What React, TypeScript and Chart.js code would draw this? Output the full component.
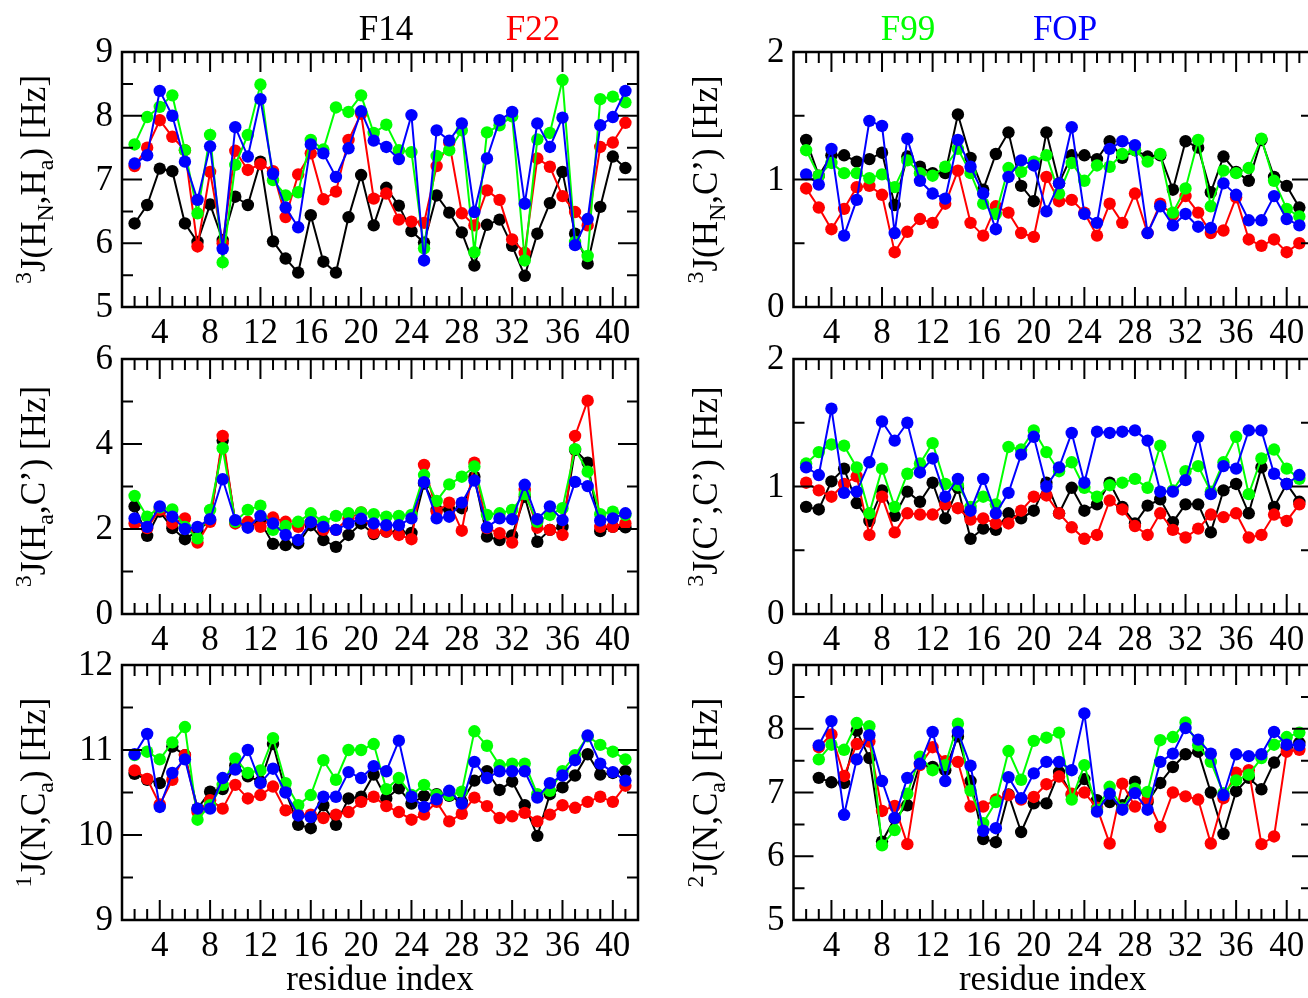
import React, { useEffect, useRef } from "react";
import { Chart, registerables } from "chart.js";

Chart.register(...registerables);

// ---- residue positions and axis ticks ----
const residues = [2, 3, 4, 5, 6, 7, 8, 9, 10, 11, 12, 13, 14, 15, 16, 17, 18, 19, 20, 21, 22, 23, 24, 25, 26, 27, 28, 29, 30, 31, 32, 33, 34, 35, 36, 37, 38, 39, 40, 41];
const residuesFrom3 = [3, 4, 5, 6, 7, 8, 9, 10, 11, 12, 13, 14, 15, 16, 17, 18, 19, 20, 21, 22, 23, 24, 25, 26, 27, 28, 29, 30, 31, 32, 33, 34, 35, 36, 37, 38, 39, 40, 41];
const residueTickLabels = [4, 8, 12, 16, 20, 24, 28, 32, 36, 40];

const seriesNames = ["F14", "F22", "F99", "FOP"];
const seriesColors = ["#000000", "#ff0000", "#00ff00", "#0000ff"];

// ---- 3J(HN,Ha) ----
const hnhaF14 = [6.31, 6.60, 7.17, 7.13, 6.31, 6.02, 6.61, 6.05, 6.73, 6.60, 7.28, 6.03, 5.76, 5.54, 6.44, 5.71, 5.54, 6.41, 7.07, 6.28, 6.87, 6.59, 6.19, 6.01, 6.75, 6.48, 6.17, 5.65, 6.29, 6.37, 5.96, 5.49, 6.15, 6.63, 7.12, 6.15, 5.68, 6.57, 7.36, 7.18];
const hnhaF22 = [7.21, 7.50, 7.93, 7.67, 7.46, 5.95, 7.12, 6.00, 7.45, 7.15, 7.24, 7.13, 6.41, 7.08, 7.41, 6.69, 6.81, 7.62, 8.03, 6.70, 6.78, 6.37, 6.34, 6.32, 7.21, 7.58, 6.47, 6.28, 6.83, 6.68, 6.06, 5.85, 7.33, 7.20, 6.74, 6.49, 6.28, 7.51, 7.58, 7.89];
const hnhaF99 = [7.55, 7.98, 8.14, 8.32, 7.46, 6.47, 7.70, 5.70, 7.23, 7.70, 8.49, 6.99, 6.75, 6.80, 7.62, 7.47, 8.13, 8.06, 8.32, 7.73, 7.86, 7.46, 7.43, 5.92, 7.37, 7.46, 7.77, 5.86, 7.74, 7.85, 7.99, 5.73, 7.63, 7.73, 8.56, 6.02, 5.80, 8.26, 8.30, 8.21];
const hnhaFOP = [7.25, 7.38, 8.39, 8.00, 7.28, 6.68, 7.52, 5.91, 7.82, 7.36, 8.26, 7.09, 6.56, 6.25, 7.55, 7.41, 7.04, 7.49, 8.07, 7.61, 7.51, 7.32, 8.01, 5.73, 7.77, 7.61, 7.88, 6.49, 7.33, 7.93, 8.06, 6.62, 7.88, 7.51, 7.97, 5.97, 6.38, 7.85, 7.98, 8.39];

// ---- 3J(HN,C') ----
const hncF14 = [1.31, 1.03, 1.19, 1.19, 1.14, 1.16, 1.21, 0.80, 1.18, 1.10, 1.05, 1.05, 1.51, 1.17, 0.92, 1.20, 1.37, 0.95, 0.83, 1.37, 0.97, 1.19, 1.19, 1.16, 1.30, 1.17, 1.23, 1.18, 1.19, 0.92, 1.30, 1.25, 0.90, 1.18, 1.06, 0.99, 1.31, 1.02, 0.95, 0.78];
const hncF22 = [0.93, 0.78, 0.61, 0.77, 0.94, 0.95, 0.88, 0.43, 0.59, 0.69, 0.66, 0.81, 1.07, 0.66, 0.56, 0.79, 0.74, 0.58, 0.55, 1.02, 0.83, 0.84, 0.74, 0.56, 0.81, 0.66, 0.89, 0.58, 0.81, 0.72, 0.87, 0.74, 0.58, 0.60, 0.86, 0.53, 0.48, 0.53, 0.43, 0.50];
const hncF99 = [1.23, 1.03, 1.13, 1.05, 1.05, 1.01, 1.04, 0.94, 1.15, 1.05, 1.03, 1.10, 1.24, 1.05, 0.81, 0.73, 1.09, 1.06, 1.14, 1.19, 0.89, 1.13, 0.99, 1.11, 1.10, 1.20, 1.23, 1.14, 1.20, 0.74, 0.93, 1.31, 0.79, 1.07, 1.05, 1.09, 1.32, 0.99, 0.77, 0.71];
const hncFOP = [1.04, 0.96, 1.24, 0.56, 0.84, 1.46, 1.42, 0.58, 1.32, 0.99, 0.89, 0.85, 1.31, 1.10, 0.89, 0.61, 1.02, 1.15, 1.11, 0.75, 0.97, 1.41, 0.73, 0.66, 1.24, 1.30, 1.27, 0.58, 0.79, 0.64, 0.73, 0.63, 0.62, 0.97, 0.88, 0.68, 0.68, 0.87, 0.69, 0.64];

// ---- 3J(Ha,C') ----
const hacF14 = [2.53, 1.84, 2.41, 2.02, 1.76, 1.95, 2.21, 4.08, 2.17, 2.05, 2.17, 1.65, 1.62, 1.66, 2.09, 1.74, 1.58, 1.86, 2.13, 1.88, 1.94, 1.91, 1.91, 3.07, 2.45, 2.46, 2.49, 3.23, 1.82, 1.74, 1.85, 2.76, 1.70, 1.98, 2.05, 3.86, 3.56, 1.95, 2.05, 2.04];
const hacF22 = [2.13, 2.02, 2.45, 2.13, 2.25, 1.68, 2.17, 4.19, 2.13, 2.17, 2.05, 2.27, 2.17, 2.05, 2.17, 1.98, 1.98, 2.25, 2.39, 1.91, 1.94, 1.86, 1.76, 3.51, 2.41, 2.62, 1.96, 3.56, 2.02, 1.90, 1.68, 2.92, 2.03, 1.98, 1.86, 4.19, 5.02, 2.05, 2.05, 2.13];
const hacF99 = [2.78, 2.29, 2.51, 2.46, 2.05, 1.78, 2.45, 3.90, 2.17, 2.45, 2.55, 1.98, 2.07, 2.17, 2.37, 2.17, 2.31, 2.37, 2.39, 2.35, 2.29, 2.31, 2.33, 3.27, 2.66, 3.05, 3.23, 3.47, 2.33, 2.37, 2.45, 2.82, 2.17, 2.33, 2.49, 3.88, 3.35, 2.35, 2.41, 2.33];
const hacFOP = [2.25, 2.05, 2.53, 2.29, 2.00, 2.05, 2.23, 3.17, 2.21, 2.03, 2.31, 2.13, 1.86, 1.74, 2.16, 2.05, 1.98, 2.13, 2.24, 2.13, 2.09, 2.09, 2.25, 3.10, 2.25, 2.29, 2.62, 3.14, 2.04, 2.25, 2.23, 3.04, 2.23, 2.53, 2.21, 3.11, 3.01, 2.20, 2.25, 2.37];

// ---- 3J(C',C') ----
const ccF14 = [0.84, 0.82, 1.04, 1.14, 0.87, 0.73, 0.97, 0.77, 0.96, 0.88, 1.03, 0.75, 0.99, 0.59, 0.67, 0.66, 0.79, 0.75, 0.81, 1.03, 0.79, 0.99, 0.81, 0.86, 1.03, 0.84, 0.71, 0.85, 0.90, 0.72, 0.86, 0.86, 0.64, 0.97, 1.02, 0.79, 1.15, 0.84, 1.02, 0.88];
const ccF22 = [1.03, 0.97, 0.92, 1.02, 1.08, 0.62, 0.92, 0.64, 0.79, 0.78, 0.78, 0.86, 0.83, 0.74, 0.75, 0.71, 0.71, 0.81, 0.92, 0.93, 0.79, 0.68, 0.59, 0.62, 0.89, 0.82, 0.69, 0.62, 0.79, 0.66, 0.60, 0.67, 0.78, 0.76, 0.79, 0.60, 0.62, 0.78, 0.73, 0.86];
const ccF99 = [1.18, 1.27, 1.33, 1.32, 1.15, 0.79, 1.14, 0.84, 1.10, 1.18, 1.34, 1.02, 1.01, 0.84, 0.92, 0.86, 1.31, 1.29, 1.44, 1.27, 1.12, 1.19, 0.99, 0.92, 1.01, 1.03, 1.06, 0.99, 1.32, 0.97, 1.12, 1.16, 0.96, 1.19, 1.39, 0.94, 1.22, 1.29, 1.14, 1.06];
const ccFOP = [1.15, 1.09, 1.61, 0.95, 0.96, 1.19, 1.51, 1.36, 1.50, 1.11, 1.22, 0.92, 1.06, 0.81, 1.06, 0.79, 0.95, 1.25, 1.39, 1.00, 1.15, 1.42, 1.03, 1.43, 1.42, 1.43, 1.44, 1.36, 0.96, 0.96, 1.05, 1.39, 0.94, 1.16, 1.14, 1.44, 1.44, 1.10, 1.02, 1.09];

// ---- 1J(N,Ca) ----
const nca1F14 = [10.72, 10.65, 10.61, 11.04, 10.94, 10.31, 10.51, 10.54, 10.82, 10.69, 10.63, 11.07, 10.51, 10.12, 10.08, 10.35, 10.12, 10.43, 10.45, 10.71, 10.43, 10.55, 10.37, 10.46, 10.48, 10.46, 10.39, 10.64, 10.75, 10.53, 10.63, 10.35, 9.99, 10.48, 10.56, 10.70, 10.95, 10.71, 10.73, 10.75];
const nca1F22 = [10.76, 10.66, 10.36, 10.65, 10.94, 10.27, 10.41, 10.31, 10.59, 10.43, 10.47, 10.57, 10.29, 10.24, 10.24, 10.20, 10.24, 10.27, 10.39, 10.45, 10.34, 10.27, 10.18, 10.24, 10.39, 10.16, 10.25, 10.44, 10.34, 10.20, 10.22, 10.26, 10.16, 10.24, 10.35, 10.32, 10.39, 10.45, 10.39, 10.58];
const nca1F99 = [10.94, 10.98, 10.89, 11.09, 11.27, 10.18, 10.35, 10.59, 10.90, 10.73, 10.76, 11.14, 10.61, 10.35, 10.47, 10.88, 10.65, 11.00, 11.00, 11.07, 10.54, 10.67, 10.47, 10.59, 10.47, 10.47, 10.51, 11.22, 11.05, 10.82, 10.84, 10.84, 10.48, 10.52, 10.75, 10.94, 11.16, 11.06, 10.98, 10.89];
const nca1FOP = [10.95, 11.19, 10.33, 10.73, 10.89, 10.31, 10.31, 10.67, 10.77, 11.00, 10.61, 10.78, 10.50, 10.23, 10.21, 10.45, 10.45, 10.74, 10.67, 10.81, 10.75, 11.11, 10.45, 10.33, 10.42, 10.52, 10.37, 10.86, 10.67, 10.75, 10.75, 10.75, 10.44, 10.61, 10.70, 10.88, 11.17, 10.84, 10.74, 10.64];

// ---- 2J(N,Ca) (residues 3-41) ----
const nca2F14 = [7.23, 7.16, 7.15, 7.97, 7.54, 6.23, 6.59, 6.80, 7.45, 7.40, 7.35, 7.88, 7.18, 6.27, 6.22, 6.97, 6.38, 6.83, 6.83, 7.32, 6.96, 7.21, 6.88, 6.85, 6.80, 7.17, 6.85, 7.15, 7.40, 7.60, 7.64, 7.00, 6.35, 7.02, 7.23, 7.05, 7.47, 7.71, 7.78];
const nca2F22 = [7.71, 7.91, 7.26, 7.76, 7.80, 6.71, 6.79, 6.19, 7.43, 7.71, 7.49, 7.48, 6.78, 6.78, 6.89, 6.96, 6.89, 6.93, 7.13, 7.25, 6.98, 7.00, 6.76, 6.20, 7.14, 6.78, 6.89, 6.46, 7.00, 6.94, 6.89, 6.20, 6.91, 7.31, 7.35, 6.19, 6.31, 7.64, 7.67];
const nca2F99 = [7.52, 7.75, 7.67, 8.09, 8.04, 6.17, 6.41, 6.98, 7.56, 7.35, 7.43, 8.08, 7.03, 6.52, 6.85, 7.65, 7.20, 7.81, 7.86, 7.94, 6.89, 7.43, 6.73, 7.09, 6.75, 7.06, 7.01, 7.82, 7.87, 8.10, 7.74, 7.48, 6.99, 7.19, 7.28, 7.54, 7.75, 7.87, 7.94];
const nca2FOP = [7.74, 8.12, 6.65, 7.52, 7.90, 7.18, 6.60, 7.23, 7.45, 7.95, 7.18, 7.95, 7.42, 6.40, 6.44, 7.24, 6.91, 7.30, 7.48, 7.48, 7.35, 8.24, 6.70, 6.98, 6.73, 6.99, 6.73, 7.48, 7.61, 8.01, 7.83, 7.61, 6.96, 7.60, 7.57, 7.60, 7.95, 7.75, 7.74];

// ---- y axis ticks per panel ----
const hnhaTicks = [5, 6, 7, 8, 9];
const hnhaMinor = [5.5, 6.5, 7.5, 8.5];
const smallJTicks = [0, 1, 2];
const smallJMinor = [0.5, 1.5];
const hacTicks = [0, 2, 4, 6];
const hacMinor = [1, 3, 5];
const nca1Ticks = [9, 10, 11, 12];
const nca1Minor = [9.5, 10.5, 11.5];
const nca2Ticks = [5, 6, 7, 8, 9];
const nca2Minor = [5.5, 6.5, 7.5, 8.5];

const FONT = "'Liberation Serif', 'Times New Roman', serif";
const FS = 35;
const FS_SMALL = 24;
const INK = "#000000";

type Seg = { t: string; s?: "sup" | "sub" };
type Header = { text: string; color: string; x: number; y: number };

interface PanelSpec {
  key: string;
  box: { x: number; y: number; w: number; h: number };
  area: { l: number; t: number; r: number; b: number };
  xs: number[];
  series: number[][];
  yMin: number;
  yMax: number;
  yTicks: number[];
  yMinor: number[];
  title: Seg[];
  xTitle: boolean;
  headers: Header[];
}

const COLS = [
  { x: 0, w: 660, l: 122, r: 638 },
  { x: 660, w: 660, l: 793.5, r: 1312 },
];
const ROWS = [
  { y: 0, h: 350, t: 52, b: 307 },
  { y: 310, h: 355, t: 359, b: 614 },
  { y: 620, h: 378, t: 665, b: 920 },
];

function makeSpec(
  key: string,
  col: number,
  row: number,
  xs: number[],
  series: number[][],
  yMin: number,
  yMax: number,
  yTicks: number[],
  yMinor: number[],
  title: Seg[],
  headers: Header[] = []
): PanelSpec {
  const c = COLS[col];
  const r = ROWS[row];
  return {
    key,
    box: { x: c.x, y: r.y, w: c.w, h: r.h },
    area: { l: c.l, t: r.t, r: c.r, b: r.b },
    xs,
    series,
    yMin,
    yMax,
    yTicks,
    yMinor,
    title,
    xTitle: row === 2,
    headers,
  };
}

const panels: PanelSpec[] = [
  makeSpec("hnha", 0, 0, residues, [hnhaF14, hnhaF22, hnhaF99, hnhaFOP], 5, 9, hnhaTicks, hnhaMinor,
    [{ t: "3", s: "sup" }, { t: "J(H" }, { t: "N", s: "sub" }, { t: ",H" }, { t: "a", s: "sub" }, { t: ") [Hz]" }],
    [
      { text: "F14", color: seriesColors[0], x: 386, y: 40 },
      { text: "F22", color: seriesColors[1], x: 533, y: 40 },
    ]),
  makeSpec("hnc", 1, 0, residues, [hncF14, hncF22, hncF99, hncFOP], 0, 2, smallJTicks, smallJMinor,
    [{ t: "3", s: "sup" }, { t: "J(H" }, { t: "N", s: "sub" }, { t: ",C\u2019) [Hz]" }],
    [
      { text: "F99", color: seriesColors[2], x: 908, y: 40 },
      { text: "FOP", color: seriesColors[3], x: 1065, y: 40 },
    ]),
  makeSpec("hac", 0, 1, residues, [hacF14, hacF22, hacF99, hacFOP], 0, 6, hacTicks, hacMinor,
    [{ t: "3", s: "sup" }, { t: "J(H" }, { t: "a", s: "sub" }, { t: ",C\u2019) [Hz]" }]),
  makeSpec("cc", 1, 1, residues, [ccF14, ccF22, ccF99, ccFOP], 0, 2, smallJTicks, smallJMinor,
    [{ t: "3", s: "sup" }, { t: "J(C\u2019,C\u2019) [Hz]" }]),
  makeSpec("nca1", 0, 2, residues, [nca1F14, nca1F22, nca1F99, nca1FOP], 9, 12, nca1Ticks, nca1Minor,
    [{ t: "1", s: "sup" }, { t: "J(N,C" }, { t: "a", s: "sub" }, { t: ") [Hz]" }]),
  makeSpec("nca2", 1, 2, residuesFrom3, [nca2F14, nca2F22, nca2F99, nca2FOP], 5, 9, nca2Ticks, nca2Minor,
    [{ t: "2", s: "sup" }, { t: "J(N,C" }, { t: "a", s: "sub" }, { t: ") [Hz]" }]),
];

const X_MIN = 1;
const X_MAX = 42;
const MAJOR_LEN = 20;
const MINOR_LEN = 11;

function drawVerticalRich(ctx: CanvasRenderingContext2D, segs: Seg[], baseX: number, cy: number) {
  const big = `${FS}px ${FONT}`;
  const small = `${FS_SMALL}px ${FONT}`;
  const widths = segs.map((s) => {
    ctx.font = s.s ? small : big;
    return ctx.measureText(s.t).width;
  });
  const total = widths.reduce((a, b) => a + b, 0);
  ctx.save();
  ctx.translate(baseX, cy);
  ctx.rotate(-Math.PI / 2);
  ctx.textAlign = "left";
  ctx.textBaseline = "alphabetic";
  let x = -total / 2;
  segs.forEach((s, i) => {
    ctx.font = s.s ? small : big;
    const dy = s.s === "sup" ? -14 : s.s === "sub" ? 8 : 0;
    ctx.fillText(s.t, x, dy);
    x += widths[i];
  });
  ctx.restore();
}

function makeFramePlugin(spec: PanelSpec) {
  return {
    id: "frameTicks",
    afterDatasetsDraw(chart: any) {
      const { ctx, chartArea: a } = chart;
      const xScale = chart.scales.x;
      const yScale = chart.scales.y;
      const ox = spec.box.x;
      const oy = spec.box.y;
      ctx.save();
      ctx.strokeStyle = INK;
      ctx.fillStyle = INK;
      ctx.lineWidth = 2;

      // inward ticks on all four sides
      ctx.beginPath();
      for (let v = X_MIN + 1; v < X_MAX; v++) {
        const px = xScale.getPixelForValue(v);
        const len = residueTickLabels.includes(v) ? MAJOR_LEN : MINOR_LEN;
        ctx.moveTo(px, a.bottom);
        ctx.lineTo(px, a.bottom - len);
        ctx.moveTo(px, a.top);
        ctx.lineTo(px, a.top + len);
      }
      const yAll = [
        ...spec.yTicks.map((v) => ({ v, len: MAJOR_LEN })),
        ...spec.yMinor.map((v) => ({ v, len: MINOR_LEN })),
      ];
      yAll.forEach(({ v, len }) => {
        if (v <= spec.yMin || v >= spec.yMax) return;
        const py = yScale.getPixelForValue(v);
        ctx.moveTo(a.left, py);
        ctx.lineTo(a.left + len, py);
        ctx.moveTo(a.right, py);
        ctx.lineTo(a.right - len, py);
      });
      ctx.stroke();

      // frame
      ctx.lineWidth = 2.5;
      ctx.strokeRect(a.left, a.top, a.right - a.left, a.bottom - a.top);

      // tick labels
      ctx.font = `${FS}px ${FONT}`;
      ctx.textAlign = "center";
      ctx.textBaseline = "alphabetic";
      residueTickLabels.forEach((v) => {
        ctx.fillText(String(v), xScale.getPixelForValue(v), a.bottom + 36);
      });
      ctx.textAlign = "right";
      ctx.textBaseline = "middle";
      spec.yTicks.forEach((v) => {
        ctx.fillText(String(v), a.left - 9, yScale.getPixelForValue(v) + 1);
      });

      // axis titles
      drawVerticalRich(ctx, spec.title, a.left - 77, (a.top + a.bottom) / 2);
      if (spec.xTitle) {
        ctx.font = `${FS}px ${FONT}`;
        ctx.textAlign = "center";
        ctx.textBaseline = "alphabetic";
        ctx.fillText("residue index", (a.left + a.right) / 2, 990 - oy);
      }

      // series names
      ctx.font = `${FS}px ${FONT}`;
      ctx.textAlign = "center";
      ctx.textBaseline = "alphabetic";
      spec.headers.forEach((h) => {
        ctx.fillStyle = h.color;
        ctx.fillText(h.text, h.x - ox, h.y - oy);
      });
      ctx.restore();
    },
  };
}

function Panel({ spec }: { spec: PanelSpec }) {
  const ref = useRef<HTMLCanvasElement>(null);

  useEffect(() => {
    const canvas = ref.current;
    if (!canvas) return;
    const { box, area } = spec;
    const chart = new Chart(canvas, {
      type: "line",
      data: {
        datasets: spec.series.map((vals, i) => ({
          label: seriesNames[i],
          data: spec.xs.map((x, j) => ({ x, y: vals[j] })),
          borderColor: seriesColors[i],
          backgroundColor: seriesColors[i],
          pointBackgroundColor: seriesColors[i],
          pointBorderColor: seriesColors[i],
          pointBorderWidth: 0,
          pointRadius: 6.2,
          borderWidth: 2,
          tension: 0,
          order: 4 - i,
        })),
      },
      options: {
        animation: false,
        responsive: false,
        maintainAspectRatio: false,
        devicePixelRatio: 1,
        events: [],
        layout: {
          padding: {
            left: area.l - box.x,
            right: box.x + box.w - area.r,
            top: area.t - box.y,
            bottom: box.y + box.h - area.b,
          },
        },
        scales: {
          x: { type: "linear", min: X_MIN, max: X_MAX, display: false },
          y: { type: "linear", min: spec.yMin, max: spec.yMax, display: false },
        },
        plugins: {
          legend: { display: false },
          tooltip: { enabled: false },
        },
      },
      plugins: [makeFramePlugin(spec)],
    });
    return () => chart.destroy();
  }, [spec]);

  return (
    <canvas
      ref={ref}
      width={spec.box.w}
      height={spec.box.h}
      style={{
        position: "absolute",
        left: spec.box.x,
        top: spec.box.y,
        width: spec.box.w,
        height: spec.box.h,
        display: "block",
      }}
    />
  );
}

export default function App() {
  return (
    <div
      style={{
        position: "absolute",
        left: 0,
        top: 0,
        width: 1308,
        height: 998,
        overflow: "hidden",
        background: "#ffffff",
      }}
    >
      {panels.map((p) => (
        <Panel key={p.key} spec={p} />
      ))}
    </div>
  );
}
